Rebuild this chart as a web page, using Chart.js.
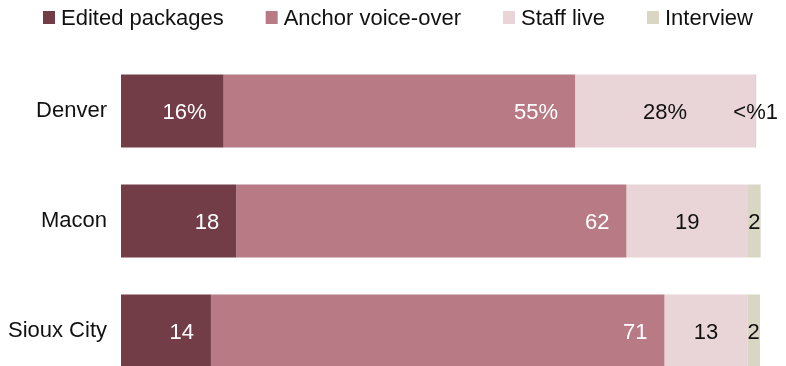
<!DOCTYPE html>
<html>
<head>
<meta charset="utf-8">
<script src="https://cdn.jsdelivr.net/npm/chart.js@4/dist/chart.umd.min.js"></script>
<style>
  html, body { margin: 0; padding: 0; background: #fff; overflow: hidden; }
  #wrap { width: 786px; height: 416px; }
</style>
</head>
<body>
<div id="wrap"><canvas id="barChart"></canvas></div>
<script>
// cities down the side
var cities = ['Denver', 'Macon', 'Sioux City']

// series (percent of airtime)
var seriesNames = ['Edited packages', 'Anchor voice-over', 'Staff live', 'Interview']
var editedPackages = [16.2, 18.2, 14.2]
var anchorVoiceOver = [55.5, 61.6, 71.6]
var staffLive = [28.4, 19.2, 13.1]
var interview = [0.2, 2.0, 2.0]

// the labels printed on the bars
var editedLabels = ['16%', '18', '14']
var anchorLabels = ['55%', '62', '71']
var staffLabels = ['28%', '19', '13']
var interviewLabels = ['<%1', '2', '2']

var colors = ['#733d48', '#b87a85', '#e9d4d8', '#d9d6c4']
var FONT = '"Liberation Sans", Arial, sans-serif'

// simple legend row at the top
var legendRow = {
    id: 'legendRow',
    afterDraw: function (chart) {
        var ctx = chart.ctx
        ctx.save()
        ctx.font = '22px ' + FONT
        ctx.textBaseline = 'alphabetic'
        ctx.textAlign = 'left'
        var x = 43
        chart.data.datasets.forEach(function (ds) {
            ctx.fillStyle = ds.backgroundColor
            ctx.fillRect(x, 11, 12, 13)
            ctx.fillStyle = '#111'
            ctx.fillText(ds.label, x + 18, 25)
            x = x + 18 + ctx.measureText(ds.label).width + 42
        })
        ctx.restore()
    }
}

// numbers inside the bars
var barLabels = {
    id: 'barLabels',
    afterDatasetsDraw: function (chart) {
        var ctx = chart.ctx
        ctx.save()
        ctx.font = '22px ' + FONT
        ctx.textBaseline = 'middle'
        chart.data.datasets.forEach(function (ds, di) {
            var meta = chart.getDatasetMeta(di)
            meta.data.forEach(function (bar, i) {
                var txt = ds.valueLabels[i]
                if (di < 2) {
                    ctx.fillStyle = '#fff'
                    ctx.textAlign = 'right'
                    ctx.fillText(txt, bar.x - 17, bar.y + 2)
                } else {
                    ctx.fillStyle = '#111'
                    ctx.textAlign = 'center'
                    ctx.fillText(txt, (bar.x + bar.base) / 2, bar.y + 2)
                }
            })
        })
        ctx.restore()
    }
}

var seriesData = [editedPackages, anchorVoiceOver, staffLive, interview]
var seriesLabels = [editedLabels, anchorLabels, staffLabels, interviewLabels]

var datasets = []
for (var i = 0; i < seriesNames.length; i++) {
    datasets.push({
        label: seriesNames[i],
        data: seriesData[i],
        valueLabels: seriesLabels[i],
        backgroundColor: colors[i],
        borderWidth: 0,
        categoryPercentage: 1,
        barPercentage: 0.664
    })
}

var myChart = new Chart(document.getElementById('barChart'), {
    type: 'bar',
    data: { labels: cities, datasets: datasets },
    plugins: [legendRow, barLabels],
    options: {
        indexAxis: 'y',
        responsive: true,
        maintainAspectRatio: false,
        animation: false,
        layout: { padding: { top: 56, left: 0, right: 0, bottom: 30 } },
        plugins: {
            legend: { display: false },
            tooltip: { enabled: false }
        },
        scales: {
            x: { stacked: true, min: 0, max: 105, display: false },
            y: {
                stacked: true,
                grid: { display: false },
                border: { display: false },
                ticks: { color: '#111', padding: 6, font: { size: 22, family: FONT } },
                afterFit: function (scale) { scale.width = 121 }
            }
        }
    }
})
</script>
</body>
</html>
